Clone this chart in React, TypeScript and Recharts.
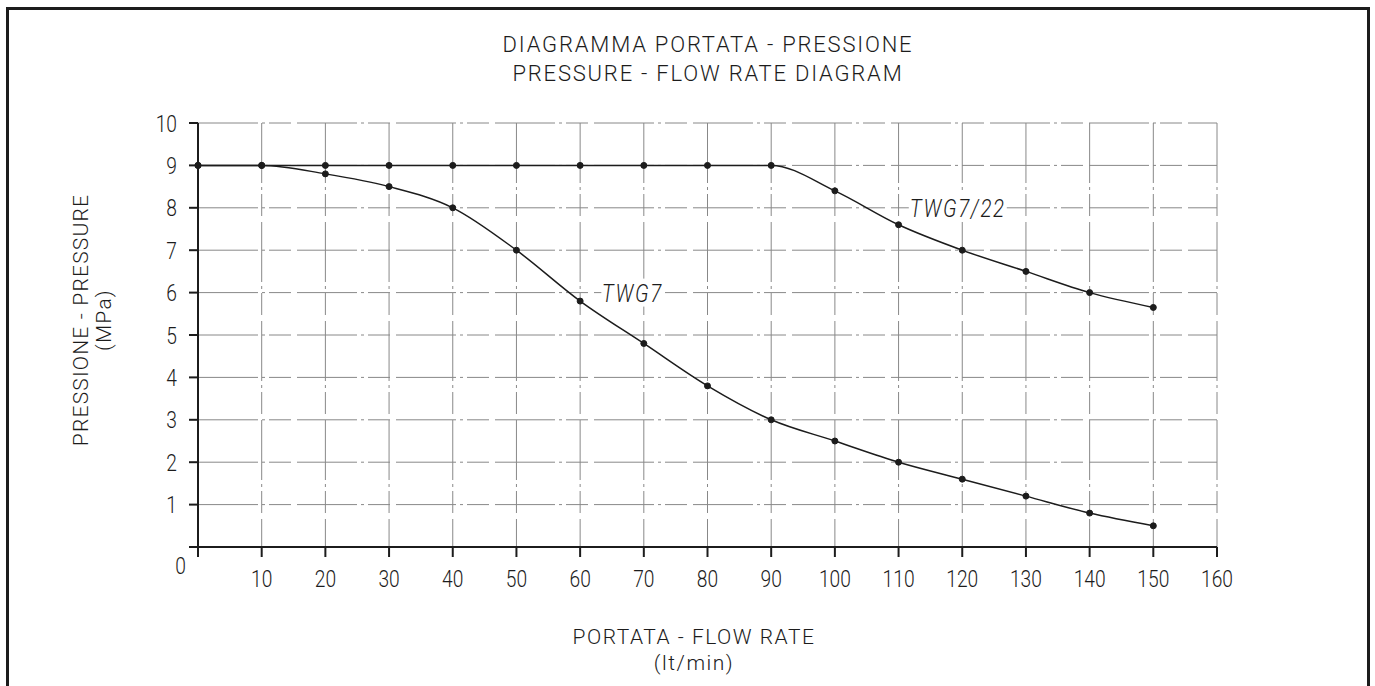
import { CartesianGrid, Line, LineChart, ReferenceDot, XAxis, YAxis } from "recharts";

// flow rate (lt/min) and pressure (MPa)
const flowRate = [0, 10, 20, 30, 40, 50, 60, 70, 80, 90, 100, 110, 120, 130, 140, 150];
const twg7 = [9, 9, 8.8, 8.5, 8.0, 7.0, 5.8, 4.8, 3.8, 3.0, 2.5, 2.0, 1.6, 1.2, 0.8, 0.5];
const twg722 = [9, 9, 9, 9, 9, 9, 9, 9, 9, 9, 8.4, 7.6, 7.0, 6.5, 6.0, 5.65];

const xTicks = [0, 10, 20, 30, 40, 50, 60, 70, 80, 90, 100, 110, 120, 130, 140, 150, 160];
const yTicks = [0, 1, 2, 3, 4, 5, 6, 7, 8, 9, 10];

const curveLabels = [
  { name: "TWG7", x: 68.2, y: 6 },
  { name: "TWG7/22", x: 119.3, y: 8 },
];

const titleLines = ["DIAGRAMMA PORTATA - PRESSIONE", "PRESSURE - FLOW RATE DIAGRAM"];
const xTitle = ["PORTATA - FLOW RATE", "(lt/min)"];
const yTitle = ["PRESSIONE - PRESSURE", "(MPa)"];

const data = flowRate.map((q, i) => ({ q, twg7: twg7[i], twg722: twg722[i] }));

const FONT = "Roboto, 'DejaVu Sans Condensed', sans-serif";
const WEIGHT = 300;
const INK = "#1c1c1c";
const GRID = "#888";

// narrow the digits a bit, the drawing uses a condensed technical lettering
function Num({ x, y, anchor, children }: any) {
  return (
    <text
      transform={`translate(${x},${y}) scale(0.8,1)`}
      textAnchor={anchor}
      dy="0.36em"
      fill={INK}
      fontFamily={FONT}
      fontWeight={WEIGHT}
      fontSize={24}
    >
      {children}
    </text>
  );
}

function XTick({ x, y, payload }: any) {
  if (payload.value === 0) return null;
  return (
    <Num x={x} y={y + 9} anchor="middle">
      {payload.value}
    </Num>
  );
}

function YTick({ x, y, payload }: any) {
  if (payload.value === 0) {
    return (
      <Num x={x + 9} y={y + 18} anchor="end">
        0
      </Num>
    );
  }
  return (
    <Num x={x} y={y} anchor="end">
      {payload.value}
    </Num>
  );
}

function CurveTag({ cx, cy, text }: any) {
  const w = text.length * 12 + 14;
  return (
    <g>
      <rect x={cx - w / 2} y={cy - 14} width={w} height={28} fill="#fff" />
      <text
        transform={`translate(${cx},${cy}) scale(0.82,1)`}
        dy="0.36em"
        textAnchor="middle"
        fill={INK}
        fontFamily={FONT}
        fontWeight={WEIGHT}
        fontStyle="italic"
        fontSize={25}
        letterSpacing={2}
      >
        {text}
      </text>
    </g>
  );
}

export default function App() {
  return (
    <div style={{ position: "absolute", left: 0, top: 0, width: 1375, height: 686, overflow: "hidden", background: "#fff" }}>
      <div
        style={{
          position: "absolute",
          left: 6,
          top: 7,
          width: 1364,
          height: 720,
          border: `3px solid ${INK}`,
          boxSizing: "border-box",
        }}
      />
      <div style={{ position: "absolute", left: 0, top: 0 }}>
        <LineChart width={1375} height={686} data={data} margin={{ top: 123, right: 158, bottom: 99, left: 148 }}>
          <CartesianGrid stroke={GRID} strokeWidth={1} strokeDasharray="60 4 3 4 22 6" />
          <XAxis
            dataKey="q"
            type="number"
            domain={[0, 160]}
            ticks={xTicks}
            interval={0}
            height={40}
            stroke={INK}
            strokeWidth={2}
            tickSize={10}
            tickMargin={12}
            tick={<XTick />}
          />
          <YAxis
            type="number"
            domain={[0, 10]}
            ticks={yTicks}
            interval={0}
            width={50}
            stroke={INK}
            strokeWidth={2}
            tickSize={9}
            tickMargin={12}
            tick={<YTick />}
          />
          <Line
            type="monotone"
            dataKey="twg722"
            stroke={INK}
            strokeWidth={1.5}
            dot={{ r: 3, fill: INK, stroke: INK, strokeWidth: 1 }}
            isAnimationActive={false}
          />
          <Line
            type="monotone"
            dataKey="twg7"
            stroke={INK}
            strokeWidth={1.5}
            dot={{ r: 3, fill: INK, stroke: INK, strokeWidth: 1 }}
            isAnimationActive={false}
          />
          {curveLabels.map((c) => (
            <ReferenceDot
              key={c.name}
              x={c.x}
              y={c.y}
              r={0}
              shape={(p: any) => <CurveTag cx={p.cx} cy={p.cy} text={c.name} />}
            />
          ))}
        </LineChart>
      </div>
      <svg width={1375} height={686} style={{ position: "absolute", left: 0, top: 0, pointerEvents: "none" }}>
        <g fill={INK} fontFamily={FONT} fontWeight={WEIGHT} textAnchor="middle">
          {titleLines.map((t, i) => (
            <text key={t} x={708} y={44 + i * 29} dy="0.36em" fontSize={22} letterSpacing={1.8}>
              {t}
            </text>
          ))}
          {xTitle.map((t, i) => (
            <text key={t} x={694} y={636 + i * 26} dy="0.36em" fontSize={21} letterSpacing={1.5}>
              {t}
            </text>
          ))}
          {yTitle.map((t, i) => (
            <text
              key={t}
              x={0}
              y={0}
              dy="0.36em"
              fontSize={21}
              letterSpacing={1.2}
              transform={`translate(${80 + i * 23}, 320) rotate(-90)`}
            >
              {t}
            </text>
          ))}
        </g>
      </svg>
    </div>
  );
}
